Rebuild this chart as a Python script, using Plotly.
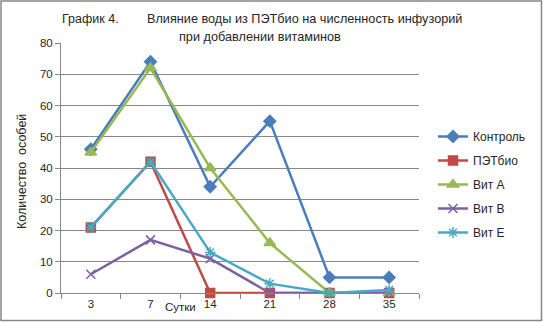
import plotly.graph_objects as go

days = ["3", "7", "14", "21", "28", "35"]
control = [46, 74, 34, 55, 5, 5]
petbio = [21, 42, 0, 0, 0, 0]
vit_a = [45, 72, 40, 16, 0, 0]
vit_b = [6, 17, 11, 0, 0, 0]
vit_e = [21, 42, 13, 3, 0, 1]

series = [
    ("Контроль", control, "#4A7EBB", "diamond", 9),
    ("ПЭТбио", petbio, "#BE4B48", "square", 9),
    ("Вит А", vit_a, "#98B954", "triangle-up", 10),
    ("Вит В", vit_b, "#7D60A0", "x-thin-open", 9),
    ("Вит Е", vit_e, "#46AAC5", "asterisk-open", 9),
]

fig = go.Figure()
for name, vals, col, sym, sz in series:
    fig.add_trace(go.Scatter(
        x=days, y=vals, name=name, mode="lines+markers", legendgroup=name,
        line=dict(color=col, width=2.5),
        marker=dict(symbol=sym, size=sz, color=col, line=dict(color=col, width=1.5)),
        cliponaxis=False,
    ))

L, R, T, B = 61, 124, 43, 29
W, H = 543, 322
pw, ph = W - L - R, H - T - B

def px(x):
    return (x - L) / pw

def py(y):
    return (H - B - y) / ph

font = "Liberation Sans"
fig.update_layout(
    width=W, height=H,
    margin=dict(l=L, r=R, t=T, b=B),
    paper_bgcolor="white", plot_bgcolor="white",
    font=dict(family=font, size=11, color="#262626"),
    showlegend=True,
    legend=dict(x=px(433), y=py(122), xanchor="left", yanchor="top",
                font=dict(size=12, color="#262626"), tracegroupgap=5,
                itemwidth=30, bgcolor="rgba(0,0,0,0)"),
    xaxis=dict(type="category", range=[-0.5, 5.5], showgrid=False, showline=True,
               linecolor="#878787", ticks="outside", tickson="boundaries", ticklen=5,
               tickcolor="#878787", tickfont=dict(size=11.5, color="#262626"), fixedrange=True),
    yaxis=dict(range=[0, 80], dtick=10, showgrid=True, gridcolor="#878787", gridwidth=1,
               showline=True, linecolor="#878787", ticks="outside", ticklen=5,
               tickcolor="#878787", zeroline=False,
               tickfont=dict(size=11.5, color="#262626"), fixedrange=True),
    annotations=[
        dict(text="График 4.", x=px(60), y=py(19), xref="paper", yref="paper",
             xanchor="left", yanchor="middle", showarrow=False, font=dict(size=12.5)),
        dict(text="Влияние воды из ПЭТбио на численность инфузорий", x=px(145), y=py(19),
             xref="paper", yref="paper", xanchor="left", yanchor="middle",
             showarrow=False, font=dict(size=12.7)),
        dict(text="при добавлении витаминов", x=px(260), y=py(37), xref="paper", yref="paper",
             xanchor="center", yanchor="middle", showarrow=False, font=dict(size=12.7)),
        dict(text="Сутки", x=px(180), y=py(307), xref="paper", yref="paper",
             xanchor="center", yanchor="middle", showarrow=False, font=dict(size=11.5)),
        dict(text="Количество  особей", x=px(22), y=py(172), xref="paper", yref="paper",
             xanchor="center", yanchor="middle", showarrow=False, textangle=-90,
             font=dict(size=12.5)),
    ],
    shapes=[
        dict(type="rect", xref="paper", yref="paper", x0=px(1), x1=px(541.5),
             y0=py(1), y1=py(320.5), line=dict(color="#868686", width=1.5),
             fillcolor="rgba(0,0,0,0)", layer="below"),
    ],
)

fig.write_html("out.html", config={"displayModeBar": False},
               post_script="document.body.style.margin='0';document.body.style.overflow='hidden';")
